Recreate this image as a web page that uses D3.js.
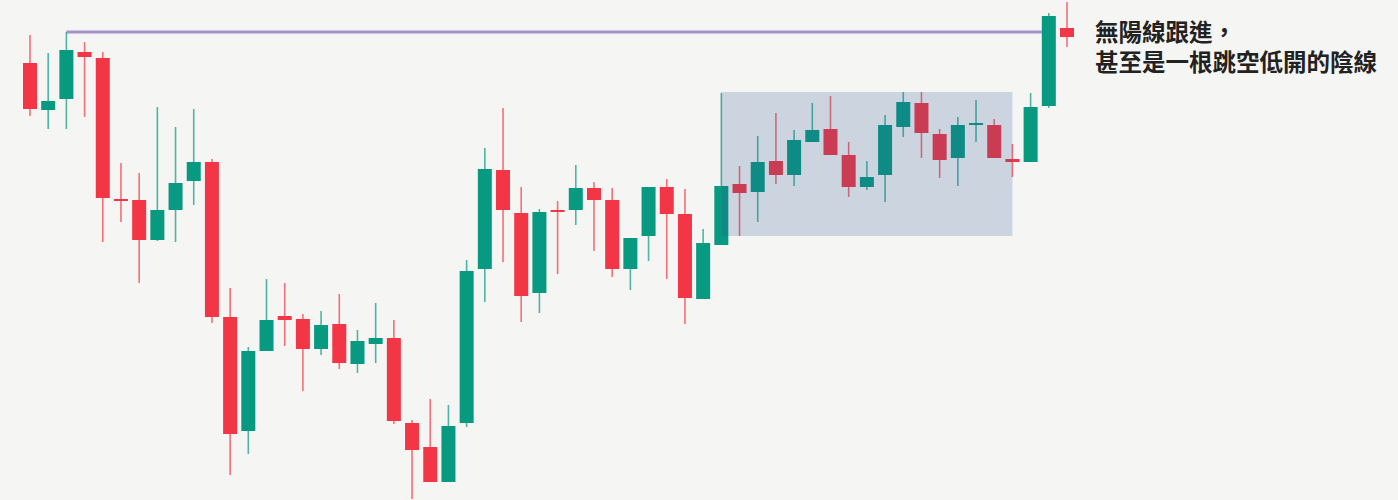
<!DOCTYPE html>
<html>
<head>
<meta charset="utf-8">
<script src="https://cdn.jsdelivr.net/npm/d3@7"></script>
<style>
  html, body { margin: 0; padding: 0; background: #f5f5f3; }
  svg { display: block; }
</style>
</head>
<body>
<svg id="chart" width="1398" height="500"></svg>
<script>
// OHLC (arbitrary price units)
const opens  = [437,390,401,448,442,301,300,260,290,319,338,183,69,149,184,181,151,176,136,156,162,77,53,18,77,231,330,287,207,290,290,312,300,231,264,313,286,201,255,316,308,339,325,358,371,345,313,325,373,397,366,342,377,375,341,338,394,472];
const highs  = [465,447,468,458,448,337,327,393,373,391,341,212,153,221,217,186,189,206,170,197,180,80,101,95,240,352,392,313,291,299,335,318,312,262,313,321,311,271,407,334,364,387,370,397,404,358,339,385,408,408,371,383,400,381,356,407,487,498];
const lows   = [384,371,371,383,258,278,217,259,258,295,177,25,46,149,154,109,145,131,127,137,76,1,18,18,73,198,238,178,187,226,275,249,223,210,239,221,176,201,255,264,278,316,314,358,345,303,310,298,363,342,322,314,358,342,323,338,392,453];
const closes = [391,399,450,443,302,300,260,290,317,338,183,66,149,180,180,151,175,137,159,162,79,50,18,74,229,331,290,204,288,288,312,300,231,262,313,286,202,257,314,307,338,325,360,370,345,313,323,375,398,367,340,375,377,342,338,393,484,463];

// resistance line: from the high of candle 2 to candle 56
const lineLevel = 468;
const lineFrom = 2, lineTo = 56;

// consolidation box
const boxFrom = 38, boxTo = 54;
const boxLow = 264, boxHigh = 408;

const noteLines = ["無陽線跟進，", "甚至是一根跳空低開的陰線"];

const upColor = "#089981";
const downColor = "#f23645";

const candles = opens.map((o, i) => ({ i, o, h: highs[i], l: lows[i], c: closes[i] }));

const svg = d3.select("#chart");
const width = +svg.attr("width"),
  height = +svg.attr("height");

const x = d3.scaleLinear().domain([0, candles.length - 1]).range([30, 1067]);
const y = d3.scaleLinear().domain([0, 500]).range([height, 0]);
const bodyW = 14;

svg.append("rect").attr("width", width).attr("height", height).attr("fill", "#f5f5f3");

// purple resistance line
svg.append("line")
  .attr("x1", x(lineFrom))
  .attr("x2", x(lineTo) - bodyW / 2)
  .attr("y1", y(lineLevel))
  .attr("y2", y(lineLevel))
  .attr("stroke", "#a792c9")
  .attr("stroke-width", 3);

const g = svg.append("g").attr("class", "candles")
  .selectAll("g")
  .data(candles)
  .join("g");

g.append("line")
  .attr("x1", d => x(d.i))
  .attr("x2", d => x(d.i))
  .attr("y1", d => y(d.h))
  .attr("y2", d => y(d.l))
  .attr("stroke", d => d.c >= d.o ? upColor : downColor)
  .attr("stroke-opacity", 0.7)
  .attr("stroke-width", 1.6);

g.append("rect")
  .attr("x", d => x(d.i) - bodyW / 2)
  .attr("width", bodyW)
  .attr("y", d => y(Math.max(d.o, d.c)))
  .attr("height", d => Math.max(2, Math.abs(y(d.o) - y(d.c))))
  .attr("fill", d => d.c >= d.o ? upColor : downColor);

// translucent box over the range
svg.append("rect")
  .attr("x", x(boxFrom))
  .attr("width", x(boxTo) - x(boxFrom))
  .attr("y", y(boxHigh))
  .attr("height", y(boxLow) - y(boxHigh))
  .attr("fill", "#2a5590")
  .attr("fill-opacity", 0.2);

// annotation
svg.append("g")
  .selectAll("text")
  .data(noteLines)
  .join("text")
  .attr("x", 1095)
  .attr("y", (d, i) => 41 + i * 30)
  .attr("font-family", "'Liberation Sans', 'Noto Sans CJK TC', sans-serif")
  .attr("font-weight", 700)
  .attr("font-size", 23.5)
  .attr("fill", "#222")
  .text(d => d);
</script>
</body>
</html>
